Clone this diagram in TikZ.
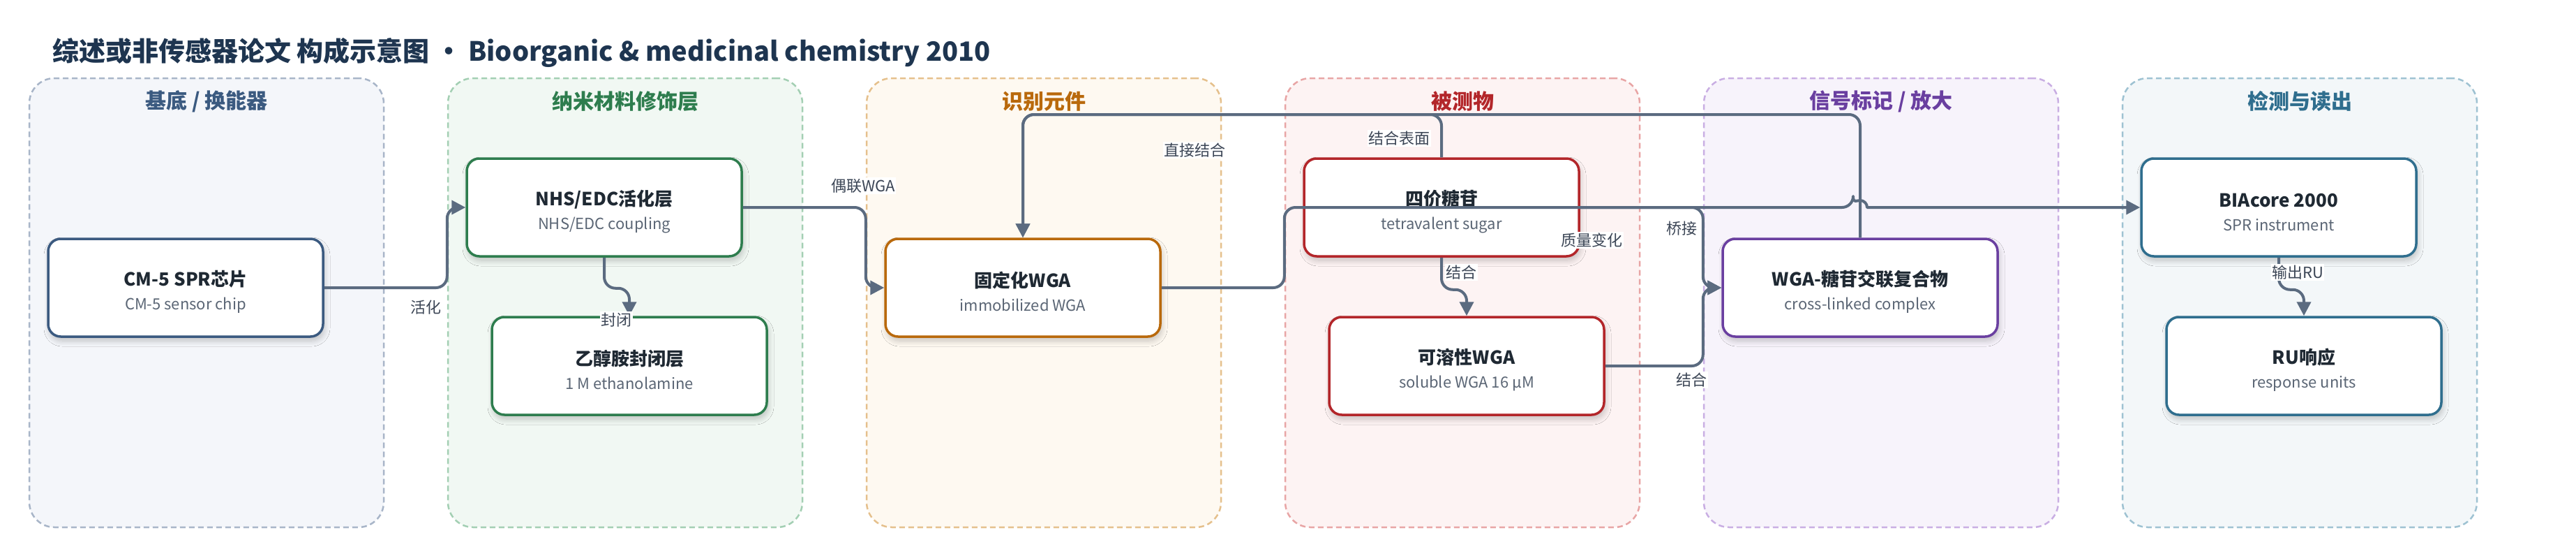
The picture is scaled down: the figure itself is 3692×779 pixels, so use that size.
\documentclass[tikz,border=0pt]{standalone}
\usepackage{fontspec}
\setmainfont{Noto Sans CJK SC}
\usetikzlibrary{arrows.meta,shadows.blur,calc}

\definecolor{titlec}{HTML}{1E3550}
\definecolor{edgec}{HTML}{5B6B80}
\definecolor{lblc}{HTML}{3C4656}
\definecolor{headc}{HTML}{1F2933}
\definecolor{subc}{HTML}{5B6675}
% group colours: main / fill / dash
\definecolor{gamain}{HTML}{3B5A80}\definecolor{gafill}{HTML}{F4F6FA}\definecolor{gadash}{HTML}{A8B5C8}
\definecolor{gbmain}{HTML}{2E7D4E}\definecolor{gbfill}{HTML}{F1F8F3}\definecolor{gbdash}{HTML}{A3CFB3}
\definecolor{gcmain}{HTML}{B9690C}\definecolor{gcfill}{HTML}{FEF9F1}\definecolor{gcdash}{HTML}{E5C08C}
\definecolor{gdmain}{HTML}{B3262A}\definecolor{gdfill}{HTML}{FDF3F3}\definecolor{gddash}{HTML}{E8A5A5}
\definecolor{gemain}{HTML}{6A3FA0}\definecolor{gefill}{HTML}{F7F3FB}\definecolor{gedash}{HTML}{C9AEE3}
\definecolor{gfmain}{HTML}{2F6E8E}\definecolor{gffill}{HTML}{F3F7F9}\definecolor{gfdash}{HTML}{9EC2D2}

\newcommand{\hd}[1]{{\fontsize{26}{34}\selectfont\bfseries\color{headc}\rule{0pt}{34pt}#1}}

\begin{document}
\begin{tikzpicture}[x=1pt, y=-1pt, line join=round,
	grp/.style={draw=#1dash, fill=#1fill, line width=2.5pt, dash pattern=on 8pt off 5pt, rounded corners=36pt, minimum width=508pt, minimum height=643pt, inner sep=0pt},
	grptitle/.style={text=#1main, font=\fontsize{30}{34}\selectfont\bfseries},
	blk/.style={draw=#1main, fill=white, line width=3.5pt, rounded corners=18pt, minimum width=394pt, minimum height=140pt, align=center, text=subc, font=\fontsize{22}{34}\selectfont, blur shadow={shadow xshift=2pt, shadow yshift=-6pt, shadow blur radius=8pt, shadow blur steps=10, shadow opacity=22}},
	flow/.style={draw=edgec, line width=4pt, rounded corners=16pt, -{Triangle[length=20pt,width=20pt]}},
	lbl/.style={fill=white, text=lblc, font=\fontsize{22}{26}\selectfont, inner sep=1.5pt}]

\useasboundingbox (0,0) rectangle (3692,779);

\node (title) at (75, 75) [anchor=west, inner sep=0pt, text=titlec, font=\fontsize{38}{44}\selectfont\bfseries] {综述或非传感器论文 构成示意图 • Bioorganic \& medicinal chemistry 2010};

% columns
\node (g1) at (296, 433.5) [grp=ga] {};
\node (g2) at (896, 433.5) [grp=gb] {};
\node (g3) at (1496, 433.5) [grp=gc] {};
\node (g4) at (2096, 433.5) [grp=gd] {};
\node (g5) at (2696, 433.5) [grp=ge] {};
\node (g6) at (3296, 433.5) [grp=gf] {};

\node (t1) at (296, 145) [grptitle=ga] {基底 / 换能器};
\node (t2) at (896, 145) [grptitle=gb] {纳米材料修饰层};
\node (t3) at (1496, 145) [grptitle=gc] {识别元件};
\node (t4) at (2096, 145) [grptitle=gd] {被测物};
\node (t5) at (2696, 145) [grptitle=ge] {信号标记 / 放大};
\node (t6) at (3296, 145) [grptitle=gf] {检测与读出};

% blocks
\node (chip) at (266, 412) [blk=ga] {\hd{CM-5 SPR芯片}\\CM-5 sensor chip};
\node (nhs) at (866, 297) [blk=gb] {\hd{NHS/EDC活化层}\\NHS/EDC coupling};
\node (eth) at (902, 524) [blk=gb] {\hd{乙醇胺封闭层}\\1 M ethanolamine};
\node (imm) at (1466, 412) [blk=gc] {\hd{固定化WGA}\\immobilized WGA};
\node (tet) at (2066, 297) [blk=gd] {\hd{四价糖苷}\\tetravalent sugar};
\node (sol) at (2102, 524) [blk=gd] {\hd{可溶性WGA}\\soluble WGA 16 µM};
\node (cplx) at (2666, 412) [blk=ge] {\hd{WGA-糖苷交联复合物}\\cross-linked complex};
\node (bia) at (3266, 297) [blk=gf] {\hd{BIAcore 2000}\\SPR instrument};
\node (ru) at (3302, 524) [blk=gf] {\hd{RU响应}\\response units};

\coordinate (bus) at (0, 164);
\coordinate (hop) at (cplx.north |- bia.west);

% connectors
\draw[flow] (chip.east) -- (g2.west |- chip.east) -- (g2.west |- nhs.west) -- (nhs.west);
\draw[flow] (nhs.south) -- ++(0,44) -| (eth.north);
\draw[flow] (nhs.east) -- (g3.west |- nhs.east) -- (g3.west |- imm.west) -- (imm.west);
\draw[flow] (tet.north) -- (tet.north |- bus) -| (imm.north);
\draw[flow] (cplx.north) -- (cplx.north |- bus) -| (imm.north);
\draw[flow] (imm.east) -- (g4.west |- imm.east) -- (g4.west |- bia.west) -- ($(hop)+(-10,0)$) [sharp corners] arc (180:360:10) -- (bia.west);
\draw[flow] (tet.east) -- (g5.west |- tet.east) -- (g5.west |- cplx.west) -- (cplx.west);
\draw[flow] (sol.east) -- (g5.west |- sol.east) -- (g5.west |- cplx.west) -- (cplx.west);
\draw[flow] (tet.south) -- ++(0,46) -| (sol.north);
\draw[flow] (bia.south) -- ++(0,46) -| (ru.north);

% labels
\node (l1) at (610, 440) [lbl] {活化};
\node (l2) at (883, 458) [lbl] {封闭};
\node (l3) at (1237, 266) [lbl] {偶联WGA};
\node (l4) at (1712, 215) [lbl] {直接结合};
\node (l5) at (2005, 198) [lbl] {结合表面};
\node (l6) at (2281, 344) [lbl] {质量变化};
\node (l7) at (2094, 390) [lbl] {结合};
\node (l8) at (2410, 327) [lbl] {桥接};
\node (l9) at (2424, 544) [lbl] {结合};
\node (l10) at (3293, 390) [lbl] {输出RU};

\end{tikzpicture}
\end{document}
